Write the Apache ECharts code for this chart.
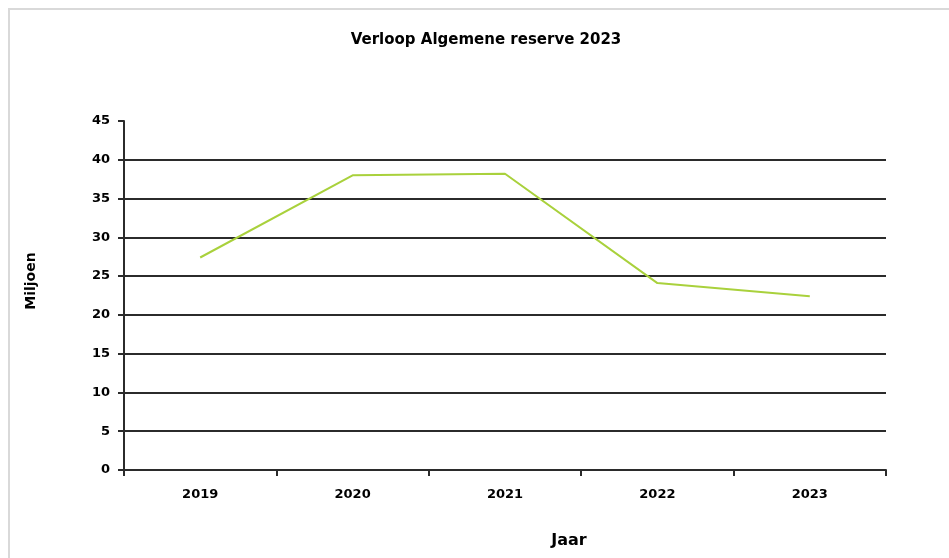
<!DOCTYPE html>
<html>
<head>
<meta charset="utf-8">
<script src="https://cdn.jsdelivr.net/npm/echarts@6/dist/echarts.min.js"></script>
<style>
  html, body { margin: 0; padding: 0; background: #fff; }
  #chart01 { width: 949px; height: 558px; }
</style>
</head>
<body>
<div id="chart01"></div>
<script>
// data
var jaren = ["2019", "2020", "2021", "2022", "2023"];
var reserve = [27.4, 38.0, 38.2, 24.1, 22.4];

var lijnKleur = "#a9d13c";
var gridKleur = ["#2b2b2b", "#2b2b2b", "#2b2b2b", "#2b2b2b", "#2b2b2b", "#2b2b2b", "#2b2b2b", "#2b2b2b", "#2b2b2b", "transparent"];

var myChart01 = echarts.init(document.getElementById('chart01'));
var option = {
    animation: false,
    textStyle: {
        fontFamily: "DejaVu Sans"
    },
    title: {
        text: "Verloop Algemene reserve 2023",
        left: 481,
        textAlign: "center",
        top: 28,
        textStyle: {
            fontSize: 15,
            fontWeight: "bold",
            color: "#000"
        }
    },
    graphic: [
        {
            type: "rect",
            shape: { x: 9, y: 9, width: 960, height: 580 },
            style: { fill: "none", stroke: "#d9d9d9", lineWidth: 2 },
            silent: true
        },
        {
            // as-titel x (staat rechts van het midden in het origineel)
            type: "text",
            x: 569,
            y: 541,
            style: {
                text: "Jaar",
                fontFamily: "DejaVu Sans",
                fontSize: 16,
                fontWeight: "bold",
                fill: "#000",
                align: "center",
                verticalAlign: "middle"
            },
            silent: true
        },
        {
            // as-titel y
            type: "text",
            x: 31,
            y: 281,
            rotation: Math.PI / 2,
            style: {
                text: "Miljoen",
                fontFamily: "DejaVu Sans",
                fontSize: 14,
                fontWeight: "bold",
                fill: "#000",
                align: "center",
                verticalAlign: "middle"
            },
            silent: true
        }
    ],
    grid: {
        left: 124,
        right: 63,
        top: 121,
        bottom: 88
    },
    xAxis: [
        {
            type: "category",
            data: jaren,
            boundaryGap: true,
            axisLine: { lineStyle: { color: "#2b2b2b", width: 2 } },
            axisTick: { show: true, length: 6, alignWithLabel: false, lineStyle: { color: "#2b2b2b", width: 2 } },
            axisLabel: {
                margin: 18,
                fontSize: 13,
                fontWeight: "bold",
                color: "#000"
            },
            splitLine: { show: false }
        }
    ],
    yAxis: [
        {
            type: "value",
            min: 0,
            max: 45,
            interval: 5,
            axisLine: { show: true, lineStyle: { color: "#2b2b2b", width: 2 } },
            axisTick: { show: true, length: 6, lineStyle: { color: "#2b2b2b", width: 2 } },
            axisLabel: {
                margin: 14,
                fontSize: 13,
                fontWeight: "bold",
                color: "#000"
            },
            splitLine: {
                show: true,
                lineStyle: { color: gridKleur, width: 2 }
            }
        }
    ],
    series: [
        {
            name: "Algemene reserve",
            type: "line",
            data: reserve,
            showSymbol: false,
            symbol: "none",
            lineStyle: { color: lijnKleur, width: 2 },
            itemStyle: { color: lijnKleur }
        }
    ]
};
myChart01.setOption(option);
</script>
</body>
</html>
